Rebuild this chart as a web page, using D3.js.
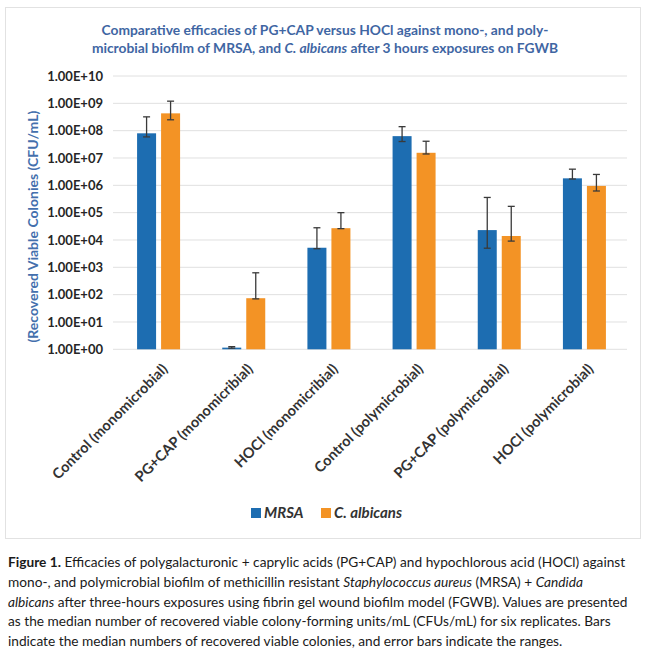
<!DOCTYPE html>
<html>
<head>
<meta charset="utf-8">
<script src="https://cdn.jsdelivr.net/npm/d3@7"></script>
<style>
  body { margin: 0; background: #fff; }
  text { font-family: Lato, "Open Sans", sans-serif; }
</style>
</head>
<body>
<div id="chart"></div>
<script>
// categories along the x axis
var categories = ["Control (monomicrobial)", "PG+CAP  (monomicribial)", "HOCl (monomicribial)",
                  "Control (polymicrobial)", "PG+CAP (polymicrobial)", "HOCl (polymicrobial)"];
var seriesNames = ["MRSA", "C. albicans"];

// medians and ranges (CFU/mL)
var mrsaMedian = [8e7, 1.15, 5200, 6.3e7, 2.3e4, 1.8e6];
var mrsaLow    = [5.9e7, 1.1, 4800, 4e7, 5000, 1.7e6];
var mrsaHigh   = [3.2e8, 1.25, 2.8e4, 1.4e8, 3.6e5, 3.9e6];
var albMedian  = [4.3e8, 74, 2.7e4, 1.55e7, 1.4e4, 9.5e5];
var albLow     = [2.5e8, 70, 2.6e4, 1.4e7, 9.1e3, 6.2e5];
var albHigh    = [1.2e9, 630, 1e5, 4.1e7, 1.7e5, 2.5e6];

var yTicks = [1, 1e1, 1e2, 1e3, 1e4, 1e5, 1e6, 1e7, 1e8, 1e9, 1e10];

var colors = {"MRSA": "#1d6db1", "C. albicans": "#f39325"};

var captionLines = [
  [["Figure 1.", "bold"], [" Efficacies of polygalacturonic + caprylic acids (PG+CAP) and hypochlorous acid (HOCl) against", ""]],
  [["mono-, and polymicrobial biofilm of methicillin resistant ", ""], ["Staphylococcus aureus", "italic"], [" (MRSA) + ", ""], ["Candida", "italic"]],
  [["albicans", "italic"], [" after three-hours exposures using fibrin gel wound biofilm model (FGWB). Values are presented", ""]],
  [["as the median number of recovered viable colony-forming units/mL (CFUs/mL) for six replicates. Bars", ""]],
  [["indicate the median numbers of recovered viable colonies, and error bars indicate the ranges.", ""]]
];

var rows = categories.map(function(c, i) {
  return {
    cat: c,
    bars: [
      {s: "MRSA", v: mrsaMedian[i], lo: mrsaLow[i], hi: mrsaHigh[i]},
      {s: "C. albicans", v: albMedian[i], lo: albLow[i], hi: albHigh[i]}
    ]
  };
});

var svg = d3.select("#chart").append("svg")
    .attr("width", 650)
    .attr("height", 665);

svg.append("rect").attr("width", 650).attr("height", 665).attr("fill", "#fff");

// chart frame
svg.append("rect")
    .attr("x", 5.5).attr("y", 7.5)
    .attr("width", 635).attr("height", 531)
    .attr("fill", "none")
    .attr("stroke", "#e2e2e2");

var plotLeft = 113, plotRight = 627, plotTop = 76, plotBottom = 349.3;

var y = d3.scaleLog().domain([1, 1e10]).range([plotBottom, plotTop]);

var x = d3.scaleBand().domain(categories).range([116, plotRight]);

var x1 = d3.scaleBand().domain(seriesNames).range([-21.5, 21.5]).paddingInner(0.2083);

// title
var title = svg.append("text")
    .attr("text-anchor", "middle")
    .attr("fill", "#3f66a3")
    .style("font-weight", "bold")
    .style("font-size", "13.8px");
title.append("tspan").attr("x", 325).attr("y", 35)
    .text("Comparative efficacies of PG+CAP versus HOCl against mono-, and poly-");
var t2 = title.append("tspan").attr("x", 325).attr("y", 53);
t2.append("tspan").text("microbial biofilm of MRSA, and ");
t2.append("tspan").style("font-style", "italic").text("C. albicans");
t2.append("tspan").text(" after 3 hours exposures on FGWB");

// gridlines
svg.append("g").selectAll("line")
    .data(yTicks)
  .enter().append("line")
    .attr("x1", plotLeft).attr("x2", plotRight)
    .attr("y1", function(d) { return y(d); })
    .attr("y2", function(d) { return y(d); })
    .attr("stroke", "#e0e0e0")
    .attr("stroke-width", 1);

// y axis labels
var yAxis = svg.append("g")
    .attr("transform", "translate(" + plotLeft + ",0)")
    .call(d3.axisLeft(y)
      .tickValues(yTicks)
      .tickSize(0)
      .tickPadding(10)
      .tickFormat(function(d) {
        var e = Math.round(Math.log10(d));
        return "1.00E+" + (e < 10 ? "0" + e : e);
      }));
yAxis.select(".domain").remove();
yAxis.selectAll("text")
    .attr("fill", "#262626")
    .style("font-family", "Lato, sans-serif")
    .style("font-weight", "bold")
    .style("font-size", "13px");

svg.append("text")
    .attr("transform", "translate(38," + ((plotTop + plotBottom) / 2 + 14) + ") rotate(-90)")
    .attr("text-anchor", "middle")
    .attr("fill", "#4470ad")
    .style("font-weight", "bold")
    .style("font-size", "14px")
    .text("(Recovered Viable Colonies (CFU/mL)");

// bars
var groups = svg.append("g").selectAll("g")
    .data(rows)
  .enter().append("g")
    .attr("transform", function(d) { return "translate(" + (x(d.cat) + x.bandwidth() / 2) + ",0)"; });

groups.selectAll("rect")
    .data(function(d) { return d.bars; })
  .enter().append("rect")
    .attr("x", function(d) { return x1(d.s); })
    .attr("width", x1.bandwidth())
    .attr("y", function(d) { return y(d.v); })
    .attr("height", function(d) { return Math.max(1.5, plotBottom - y(d.v)); })
    .attr("fill", function(d) { return colors[d.s]; });

// error bars
var err = groups.selectAll("g.err")
    .data(function(d) { return d.bars; })
  .enter().append("g")
    .attr("class", "err")
    .attr("stroke", "#3a3a3a")
    .attr("stroke-width", 1.3);

err.append("line")
    .attr("x1", function(d) { return x1(d.s) + x1.bandwidth() / 2; })
    .attr("x2", function(d) { return x1(d.s) + x1.bandwidth() / 2; })
    .attr("y1", function(d) { return y(d.lo); })
    .attr("y2", function(d) { return y(d.hi); });

err.selectAll("line.cap")
    .data(function(d) { return [d.lo, d.hi].map(function(v) { return {s: d.s, v: v}; }); })
  .enter().append("line")
    .attr("class", "cap")
    .attr("x1", function(d) { return x1(d.s) + x1.bandwidth() / 2 - 3.5; })
    .attr("x2", function(d) { return x1(d.s) + x1.bandwidth() / 2 + 3.5; })
    .attr("y1", function(d) { return y(d.v); })
    .attr("y2", function(d) { return y(d.v); });

// x labels, slanted
svg.append("g").selectAll("text")
    .data(categories)
  .enter().append("text")
    .attr("transform", function(d) {
      return "translate(" + (x(d) + x.bandwidth() / 2 + 10) + ",370) rotate(-45)";
    })
    .attr("text-anchor", "end")
    .attr("fill", "#333")
    .style("font-weight", "bold")
    .style("font-size", "14.5px")
    .text(function(d) { return d; });

// legend
var legend = svg.append("g").selectAll("g")
    .data(seriesNames)
  .enter().append("g")
    .attr("transform", function(d, i) { return "translate(" + (251 + i * 70) + ",508)"; });

legend.append("rect")
    .attr("width", 10).attr("height", 10)
    .attr("fill", function(d) { return colors[d]; });

legend.append("text")
    .attr("x", 13).attr("y", 10)
    .attr("fill", "#333")
    .style("font-weight", "bold")
    .style("font-style", "italic")
    .style("font-size", "15px")
    .text(function(d) { return d; });

// caption
var cap = svg.append("g");
captionLines.forEach(function(line, i) {
  var t = cap.append("text")
      .attr("x", 8)
      .attr("y", 567 + i * 19.8)
      .attr("fill", "#1a1a1a")
      .style("font-size", "13.7px");
  line.forEach(function(part) {
    var sp = t.append("tspan").text(part[0]);
    if (part[1] === "bold") sp.style("font-weight", "bold");
    if (part[1] === "italic") sp.style("font-style", "italic");
  });
});
</script>
</body>
</html>
